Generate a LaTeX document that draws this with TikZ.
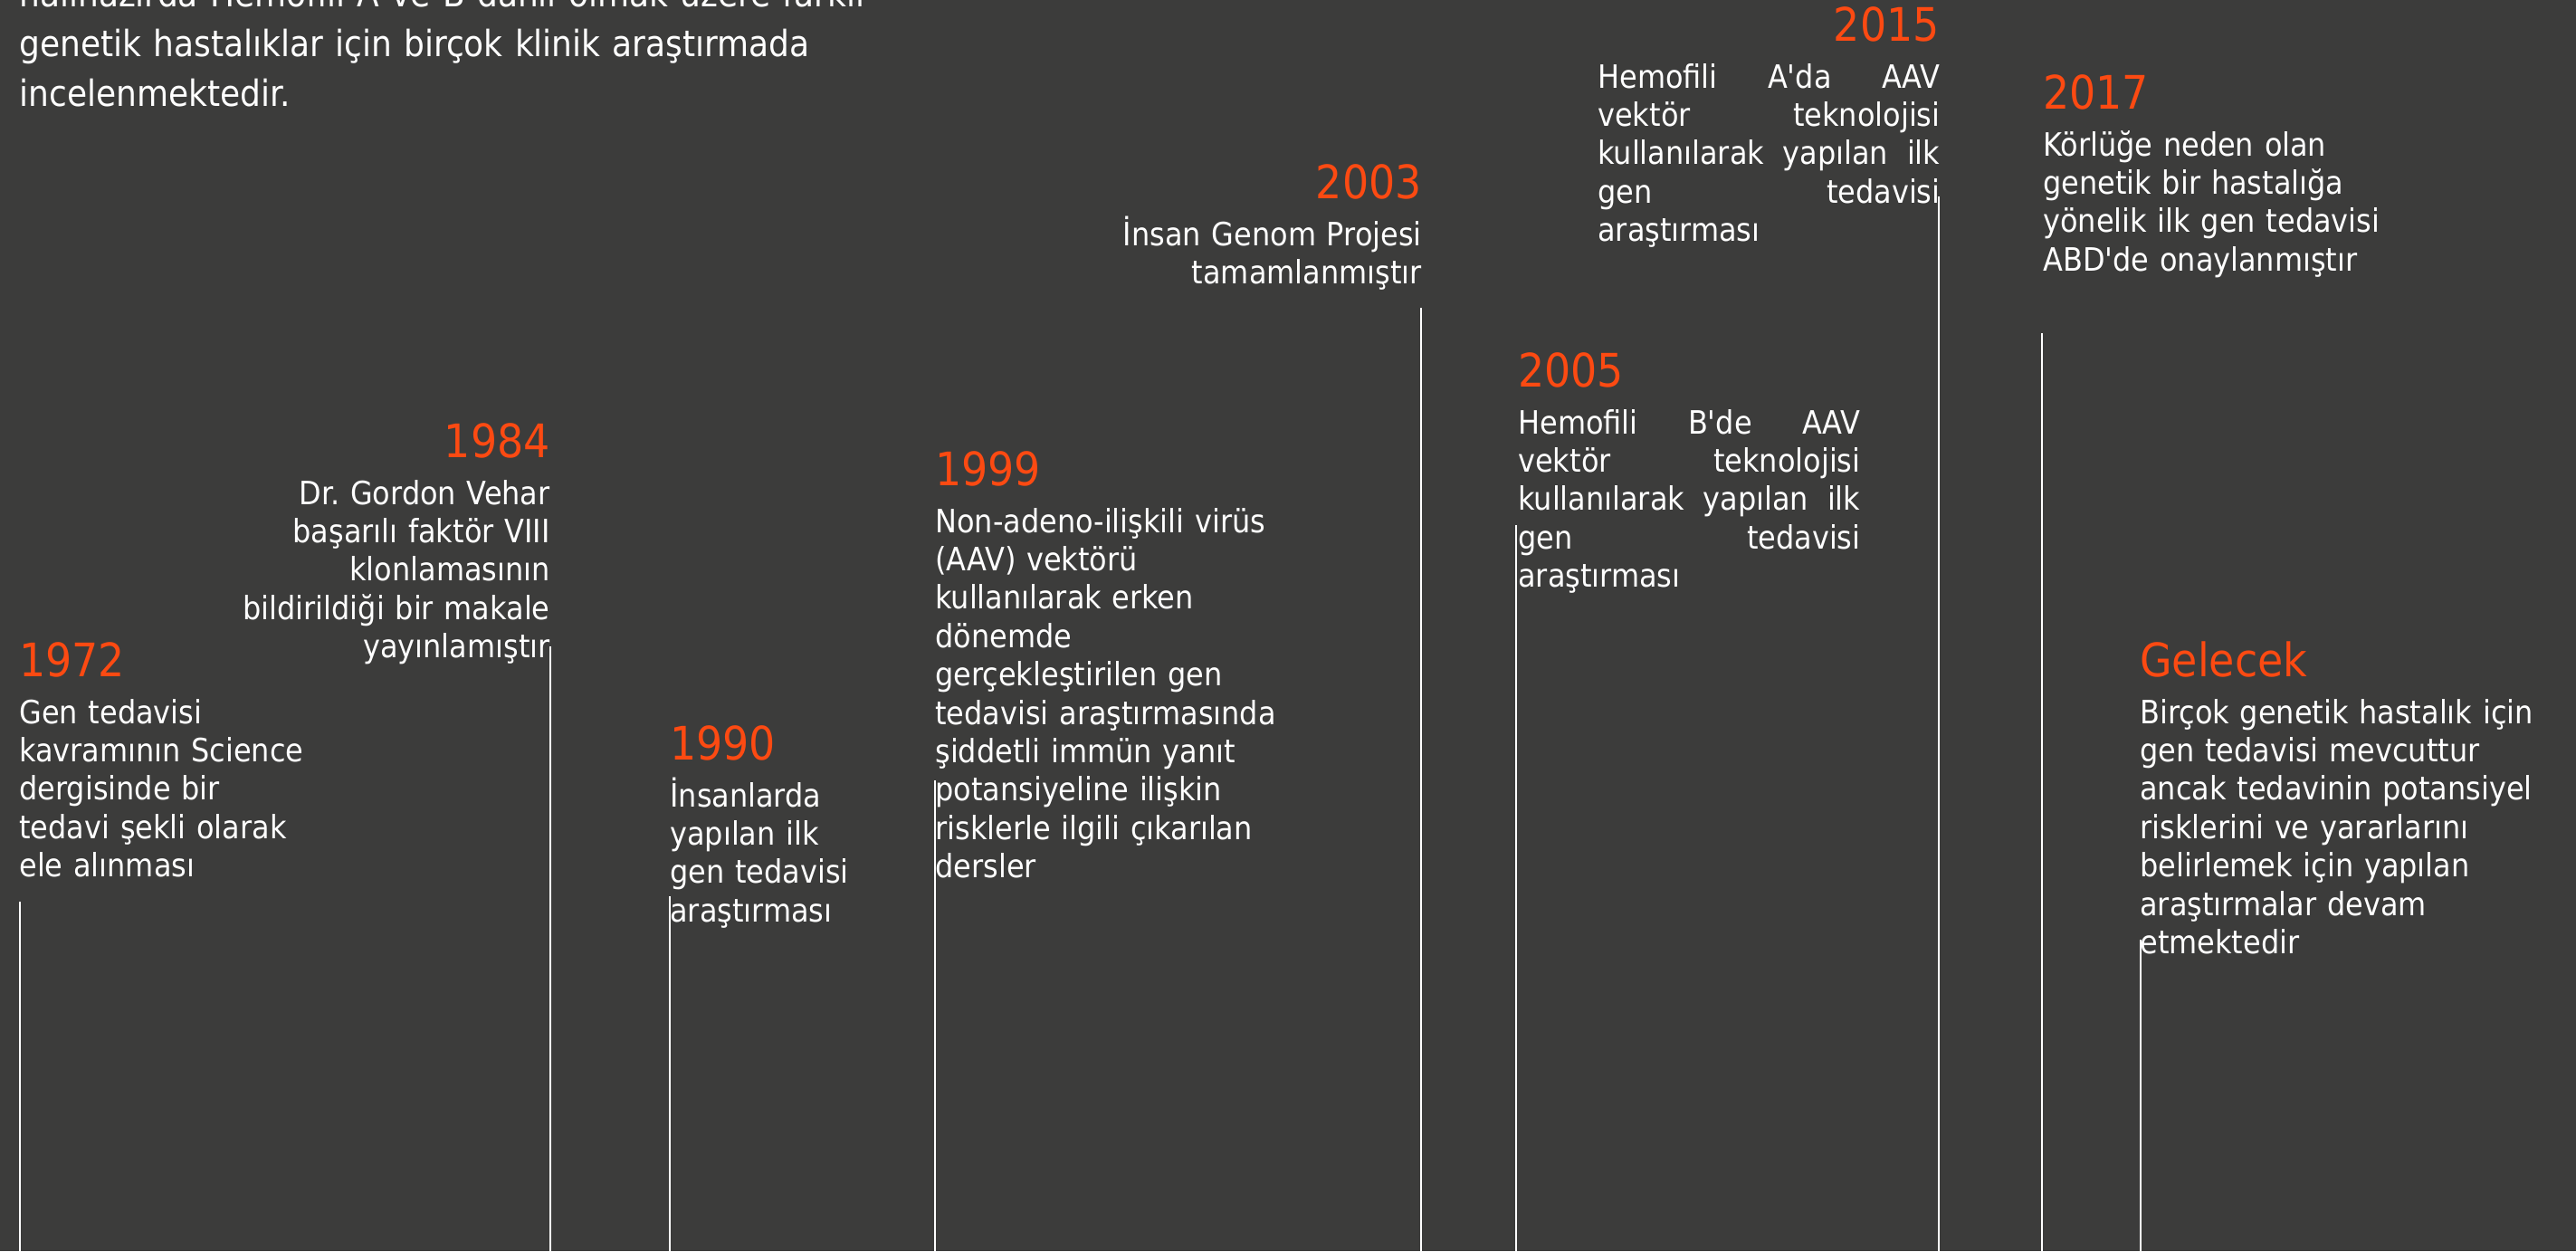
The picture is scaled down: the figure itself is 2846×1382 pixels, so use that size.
\documentclass[tikz,border=0pt]{standalone}
\usepackage{fontspec}
\setmainfont{DejaVu Sans Condensed}[Ligatures=TeXOff]
\definecolor{bgcol}{RGB}{60,60,59}
\definecolor{yearcol}{RGB}{252,74,18}
\frenchspacing

\begin{document}
\begin{tikzpicture}[x=0.5pt, y=-0.5pt,
    intro/.style={inner sep=0pt, text=white, text width=520pt, align=left,
        font=\fontsize{20}{27.5}\selectfont},
    year/.style={inner sep=0pt, text=yearcol, font=\fontsize{25.5}{30}\selectfont},
    event/.style={inner sep=0pt, text=white, text width=#1,
        font=\fontsize{17.75}{21.2}\selectfont},
    event/.default=240pt,
    yearline/.style={draw=white, line width=1pt}]
    \useasboundingbox (0,0) rectangle (2846,1382);
    \fill[bgcol] (0,0) rectangle (2846,1382);

    \node[intro, anchor=base west] (intro) at (21,7) {halihazırda Hemofili A ve B dahil olmak üzere farklı\\genetik hastalıklar için birçok klinik araştırmada\\incelenmektedir.};

    \node[year, anchor=base west] (y1972) at (21,747) {1972};
    \node[event, anchor=base west, align=left] (e1972) at (21,799) {Gen tedavisi\\kavramının Science\\dergisinde bir\\tedavi şekli olarak\\ele alınması};

    \node[year, anchor=base east] (y1984) at (608,505) {1984};
    \node[event, anchor=base east, align=right] (e1984) at (608,557) {Dr. Gordon Vehar\\başarılı faktör VIII\\klonlamasının\\bildirildiği bir makale\\yayınlamıştır};

    \node[year, anchor=base west] (y1990) at (740,839) {1990};
    \node[event, anchor=base west, align=left] (e1990) at (740,891) {İnsanlarda\\yapılan ilk\\gen tedavisi\\araştırması};

    \node[year, anchor=base west] (y1999) at (1033,536) {1999};
    \node[event, anchor=base west, align=left] (e1999) at (1033,588) {Non-adeno-ilişkili virüs\\(AAV) vektörü\\kullanılarak erken\\dönemde\\gerçekleştirilen gen\\tedavisi araştırmasında\\şiddetli immün yanıt\\potansiyeline ilişkin\\risklerle ilgili çıkarılan\\dersler};

    \node[year, anchor=base east] (y2003) at (1571,219) {2003};
    \node[event, anchor=base east, align=right] (e2003) at (1571,271) {İnsan Genom Projesi\\tamamlanmıştır};

    \node[year, anchor=base west] (y2005) at (1677,427) {2005};
    \node[event=189pt, anchor=base west, align=left] (e2005) at (1677,479) {Hemofili\hfill B'de\hfill AAV\\vektör\hfill teknolojisi\\kullanılarak\hfill yapılan\hfill ilk\\gen\hfill tedavisi\\araştırması};

    \node[year, anchor=base east] (y2015) at (2143,45) {2015};
    \node[event=189pt, anchor=base west, align=left] (e2015) at (1765,97) {Hemofili\hfill A'da\hfill AAV\\vektör\hfill teknolojisi\\kullanılarak\hfill yapılan\hfill ilk\\gen\hfill tedavisi\\araştırması};

    \node[year, anchor=base west] (y2017) at (2257,120) {2017};
    \node[event, anchor=base west, align=left] (e2017) at (2257,172) {Körlüğe neden olan\\genetik bir hastalığa\\yönelik ilk gen tedavisi\\ABD'de onaylanmıştır};

    \node[year, anchor=base west] (ygelecek) at (2364,747) {Gelecek};
    \node[event, anchor=base west, align=left] (egelecek) at (2364,799) {Birçok genetik hastalık için\\gen tedavisi mevcuttur\\ancak tedavinin potansiyel\\risklerini ve yararlarını\\belirlemek için yapılan\\araştırmalar devam\\etmektedir};

    \coordinate (bottom) at (0,1384);
    \coordinate (top1972) at (22,996);
    \coordinate (top1984) at (608,714);
    \coordinate (top1990) at (740,990);
    \coordinate (top1999) at (1033,862);
    \coordinate (top2003) at (1570,340);
    \coordinate (top2005) at (1675,580);
    \coordinate (top2015) at (2142,217);
    \coordinate (top2017) at (2256,368);
    \coordinate (topgelecek) at (2365,1038);

    \draw[yearline] (top1972) -- (top1972 |- bottom);
    \draw[yearline] (top1984) -- (top1984 |- bottom);
    \draw[yearline] (top1990) -- (top1990 |- bottom);
    \draw[yearline] (top1999) -- (top1999 |- bottom);
    \draw[yearline] (top2003) -- (top2003 |- bottom);
    \draw[yearline] (top2005) -- (top2005 |- bottom);
    \draw[yearline] (top2015) -- (top2015 |- bottom);
    \draw[yearline] (top2017) -- (top2017 |- bottom);
    \draw[yearline] (topgelecek) -- (topgelecek |- bottom);
\end{tikzpicture}
\end{document}
